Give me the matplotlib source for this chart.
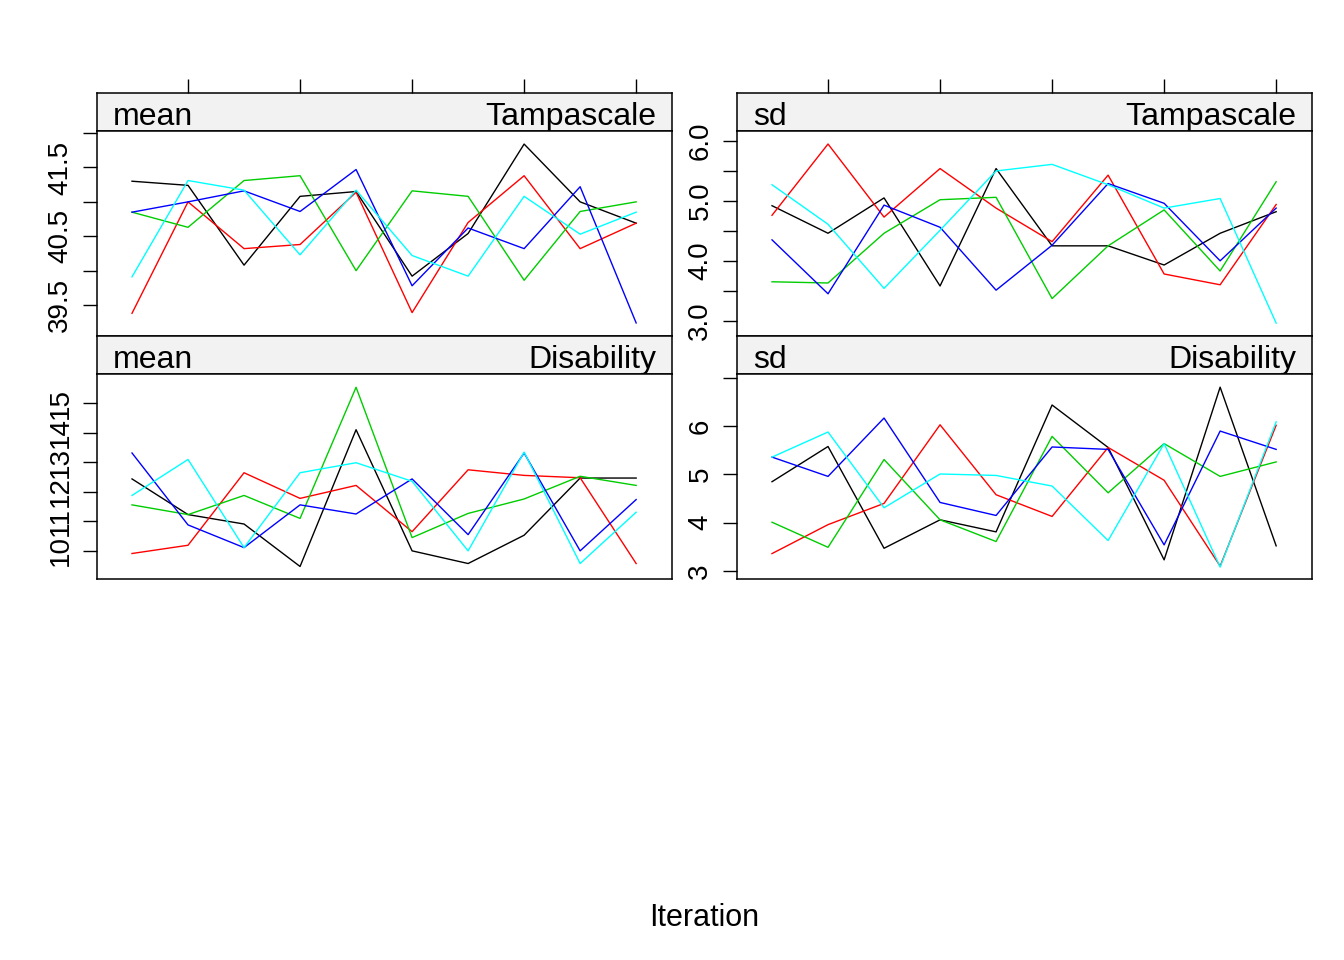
import matplotlib
matplotlib.use("Agg")
import matplotlib.pyplot as plt

plt.rcParams['font.family'] = ['Liberation Sans', 'DejaVu Sans']

iterations = [1, 2, 3, 4, 5, 6, 7, 8, 9, 10]
chain_colors = ['black', '#FF0000', '#00CD00', '#0000FF', '#00FFFF']

# mean of Tampascale, chains 1..5
tamp_mean = [
    [41.30, 41.24, 40.08, 41.08, 41.15, 39.92, 40.54, 41.84, 41.00, 40.69],
    [39.38, 41.00, 40.32, 40.38, 41.14, 39.39, 40.70, 41.38, 40.32, 40.69],
    [40.85, 40.63, 41.31, 41.38, 40.00, 41.16, 41.08, 39.86, 40.86, 41.00],
    [40.85, 41.00, 41.16, 40.86, 41.47, 39.78, 40.62, 40.32, 41.22, 39.24],
    [39.91, 41.31, 41.17, 40.23, 41.17, 40.22, 39.92, 41.08, 40.53, 40.85],
]
# sd of Tampascale
tamp_sd = [
    [4.92, 4.46, 5.05, 3.58, 5.54, 4.25, 4.25, 3.93, 4.46, 4.82],
    [4.76, 5.95, 4.73, 5.54, 4.88, 4.32, 5.43, 3.78, 3.60, 4.94],
    [3.65, 3.63, 4.46, 5.02, 5.06, 3.37, 4.25, 4.85, 3.83, 5.32],
    [4.35, 3.45, 4.93, 4.56, 3.51, 4.26, 5.29, 4.96, 4.00, 4.88],
    [5.27, 4.61, 3.54, 4.51, 5.50, 5.61, 5.27, 4.88, 5.04, 2.96],
]
# mean of Disability
dis_mean = [
    [12.44, 11.23, 10.91, 9.47, 14.11, 10.00, 9.57, 10.53, 12.47, 12.47],
    [9.91, 10.19, 12.65, 11.78, 12.22, 10.65, 12.75, 12.56, 12.48, 9.57],
    [11.56, 11.23, 11.88, 11.10, 15.55, 10.45, 11.27, 11.76, 12.53, 12.22],
    [13.32, 10.88, 10.11, 11.56, 11.25, 12.44, 10.55, 13.32, 10.00, 11.74],
    [11.88, 13.10, 10.11, 12.65, 12.99, 12.36, 10.00, 13.35, 9.57, 11.31],
]
# sd of Disability
dis_sd = [
    [4.85, 5.58, 3.47, 4.06, 3.81, 6.44, 5.56, 3.23, 6.81, 3.52],
    [3.36, 3.96, 4.40, 6.03, 4.58, 4.13, 5.56, 4.88, 3.10, 6.02],
    [4.01, 3.49, 5.31, 4.06, 3.61, 5.79, 4.62, 5.64, 4.96, 5.26],
    [5.36, 4.96, 6.17, 4.42, 4.15, 5.57, 5.52, 3.54, 5.90, 5.52],
    [5.36, 5.88, 4.31, 5.01, 4.98, 4.76, 3.63, 5.64, 3.08, 6.09],
]

W, H = 1344, 960
fig = plt.figure(figsize=(W / 100, H / 100), dpi=100)


def px_axes(x0, y0, x1, y1):
    return fig.add_axes([x0 / W, 1 - y1 / H, (x1 - x0) / W, (y1 - y0) / H])


panels = [
    # data, stat, var, x0, strip top, ylim, ticks, labels, top row
    (tamp_mean, 'mean', 'Tampascale', 97, 93, (39.05, 42.03),
     [39.5, 40.0, 40.5, 41.0, 41.5, 42.0], ['39.5', '', '40.5', '', '41.5', ''], True),
    (tamp_sd, 'sd', 'Tampascale', 737, 93, (2.745, 6.167),
     [3.0, 3.5, 4.0, 4.5, 5.0, 5.5, 6.0], ['3.0', '', '4.0', '', '5.0', '', '6.0'], True),
    (dis_mean, 'mean', 'Disability', 97, 336, (9.045, 16.0),
     [10, 11, 12, 13, 14, 15], ['10', '11', '12', '13', '14', '15'], False),
    (dis_sd, 'sd', 'Disability', 737, 336, (2.833, 7.083),
     [3, 4, 5, 6, 7], ['3', '4', '5', '6', ''], False),
]

xlim = (0.375, 10.64)
for data, stat, var, x0, sy, ylim, yt, ytl, top in panels:
    strip = px_axes(x0, sy, x0 + 575, sy + 38)
    strip.set_facecolor('#F2F2F2')
    strip.set_xlim(xlim)
    strip.set_yticks([])
    if top:
        strip.set_xticks([2, 4, 6, 8, 10])
        strip.tick_params(axis='x', bottom=False, top=True, labelbottom=False,
                          labeltop=False, direction='out', length=10, width=1.0)
    else:
        strip.set_xticks([])
    for s in strip.spines.values():
        s.set_linewidth(1.1)
    strip.text(16 / 575, 0.17, stat, transform=strip.transAxes, fontsize=23,
               ha='left', va='baseline')
    strip.text(1 - 16 / 575, 0.17, var, transform=strip.transAxes, fontsize=23,
               ha='right', va='baseline')

    ax = px_axes(x0, sy + 38, x0 + 575, sy + 38 + 205)
    for chain, col in zip(data, chain_colors):
        ax.plot(iterations, chain, color=col, lw=1.0)
    ax.set_xlim(xlim)
    ax.set_ylim(ylim)
    ax.set_xticks([])
    ax.set_yticks(yt)
    ax.set_yticklabels(ytl, rotation=90, va='center')
    ax.tick_params(axis='y', direction='out', length=10, width=1.0,
                   labelsize=20, pad=7)
    for s in ax.spines.values():
        s.set_linewidth(1.1)

fig.text(704 / W, 1 - 918 / H, 'Iteration', fontsize=22, ha='center', va='center')

fig.savefig('out.png', dpi=100)
